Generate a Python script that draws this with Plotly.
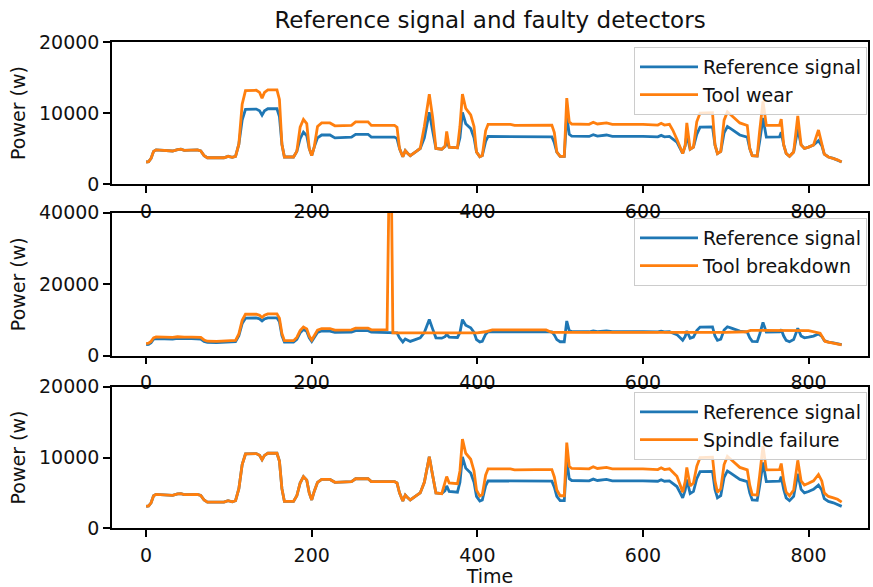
import plotly.graph_objects as go

# ---------------- data ----------------
time = [0, 3, 6, 9, 12, 20, 26, 32, 38, 42, 46, 55, 62, 66, 70, 74, 85, 94, 99, 104,
        108, 112, 116, 120, 133, 137, 140, 143, 147, 158, 161, 164, 167, 178, 182, 186, 190, 194, 197, 200,
        203, 207, 212, 222, 228, 248, 253, 268, 272, 300, 303, 306, 310, 313, 316, 319, 325, 331, 336, 342,
        346, 350, 357, 361, 363, 366, 376, 379, 382, 386, 392, 396, 399, 403, 406, 410, 413, 440, 445, 470,
        490, 493, 496, 500, 505, 508, 511, 514, 535, 540, 545, 556, 563, 600, 618, 622, 626, 632, 636, 641,
        645, 648, 651, 653, 657, 661, 665, 669, 684, 687, 690, 694, 698, 702, 706, 717, 726, 729, 732, 738,
        741, 745, 749, 765, 767, 770, 773, 777, 782, 787, 791, 795, 800, 806, 812, 816, 819, 824, 830, 835,
        840]

reference = [3100, 3150, 3600, 4600, 4800, 4750, 4700, 4650, 4850, 4900, 4750, 4750, 4800, 4650, 4000, 3700, 3650, 3700, 3900, 3750,
             3900, 5600, 9000, 10500, 10550, 10300, 9700, 10300, 10600, 10600, 9500, 5600, 3800, 3800, 4600, 6400, 7300, 6800, 5000, 4000,
             5200, 6500, 6900, 6900, 6500, 6600, 7000, 7000, 6600, 6600, 6400, 5000, 3850, 4700, 4300, 4000, 4500, 5000, 6500, 10100,
             7500, 5000, 4900, 5300, 6000, 5200, 5100, 6500, 10100, 8500, 7800, 6500, 4500, 3850, 4000, 6000, 6700, 6700, 6600, 6650,
             6650, 5800, 4500, 3900, 3900, 9700, 7000, 6750, 6700, 6950, 6750, 6900, 6700, 6700, 6650, 6850, 6650, 6700, 6300, 5900,
             5000, 4300, 5400, 6900, 4900, 5200, 7000, 8000, 8050, 5500, 4300, 4600, 7200, 8100, 7800, 6900, 6600, 5000, 4000, 3950,
             6000, 9300, 6600, 6650, 7300, 5500, 4300, 3900, 4500, 7700, 5500, 5000, 5200, 5500, 6100, 5400, 4200, 3800, 3600, 3400,
             3100]

tool_wear = [3100, 3150, 3600, 4600, 4800, 4750, 4700, 4650, 4850, 4900, 4750, 4750, 4800, 4650, 4000, 3700, 3650, 3700, 3900, 3750,
             3900, 5600, 11250, 13150, 13200, 12900, 12100, 12900, 13250, 13250, 11900, 5600, 3800, 3800, 4600, 8000, 9100, 8500, 5000, 4000,
             5200, 8100, 8600, 8600, 8200, 8250, 8750, 8750, 8250, 8250, 8000, 5000, 3850, 4700, 4300, 4000, 4500, 5000, 8100, 12650,
             9400, 5000, 4900, 5300, 7400, 5200, 5100, 8100, 12650, 10650, 9750, 8100, 4500, 3850, 4000, 7500, 8400, 8400, 8250, 8300,
             8300, 7250, 4500, 3900, 3900, 12100, 8750, 8450, 8400, 8700, 8450, 8600, 8400, 8400, 8300, 8550, 8300, 8400, 7600, 6300,
             5000, 4300, 5400, 8600, 4900, 5200, 8750, 10000, 10050, 5500, 4300, 4600, 9000, 10150, 9750, 8600, 8250, 5000, 4000, 3950,
             7500, 11650, 8250, 8300, 9150, 5500, 4300, 3900, 4500, 9600, 5500, 5000, 5200, 5500, 7600, 5400, 4200, 3800, 3600, 3400,
             3100]

spindle_failure = [3100, 3150, 3600, 4600, 4800, 4750, 4700, 4650, 4850, 4900, 4750, 4750, 4800, 4650, 4000, 3700, 3650, 3700, 3900, 3750,
                   3900, 5600, 9000, 10500, 10550, 10300, 9700, 10300, 10600, 10600, 9500, 5600, 3800, 3800, 4600, 6400, 7300, 6800, 5000, 4000,
                   5200, 6500, 6900, 6900, 6500, 6600, 7000, 7000, 6600, 6600, 6400, 5000, 3850, 4700, 4300, 4000, 4500, 5000, 6500, 10100,
                   7500, 5000, 4900, 6400, 7300, 6400, 6300, 8100, 12600, 10600, 9750, 8100, 5400, 4550, 4750, 7500, 8400, 8400, 8250, 8300,
                   8300, 7250, 5400, 4600, 4600, 12100, 8750, 8450, 8400, 8700, 8450, 8600, 8400, 8400, 8300, 8550, 8300, 8400, 7900, 7350,
                   6100, 5100, 6600, 8600, 6000, 6400, 8750, 10000, 10050, 6700, 5100, 5600, 9000, 10150, 9750, 8600, 8250, 6100, 4750, 4700,
                   7500, 11650, 8250, 8300, 9150, 6700, 5100, 4600, 5400, 9600, 6700, 6100, 6350, 6700, 7600, 6700, 5000, 4500, 4300, 4100,
                   3700]

breakdown_time = [0, 3, 6, 9, 12, 20, 26, 32, 38, 42, 46, 55, 62, 66, 70, 74, 85, 94, 99, 104,
                  108, 112, 116, 120, 133, 137, 140, 143, 147, 158, 161, 164, 167, 178, 182, 186, 190, 194, 197, 200,
                  203, 207, 212, 222, 228, 248, 253, 268, 272, 288, 291, 295, 298, 400, 410, 418, 483, 490, 640, 700,
                  725, 730, 800, 810, 814, 820, 830, 840]

tool_breakdown = [3400, 3500, 4000, 5000, 5250, 5200, 5150, 5100, 5300, 5350, 5200, 5200, 5250, 5100, 4400, 4050, 4000, 4050, 4250, 4100,
                  4300, 6100, 9900, 11600, 11600, 11300, 10700, 11300, 11700, 11700, 10500, 6200, 4200, 4200, 5100, 7000, 8000, 7500, 5500, 4400,
                  5700, 7150, 7600, 7600, 7150, 7250, 7700, 7700, 7250, 7300, 7300, 75000, 6400, 6400, 6700, 7200, 7200, 6500, 6450, 6500,
                  6700, 7100, 7000, 6600, 6300, 4000, 3500, 3000]

title_text = "Reference signal and faulty detectors"
fault_names = ["Tool wear", "Tool breakdown", "Spindle failure"]
y_max = [20000, 40000, 20000]
y_ticks = [[0, 10000, 20000], [0, 20000, 40000], [0, 10000, 20000]]
x_ticks = [0, 200, 400, 600, 800]

# ---------------- style ----------------
BLUE = "#1f77b4"
ORANGE = "#ff7f0e"
FONT = "DejaVu Sans"
LW = 2.8
TXT = "#111111"

fig = go.Figure()

faults = [(time, tool_wear), (breakdown_time, tool_breakdown), (time, spindle_failure)]
for i in range(3):
    sfx = "" if i == 0 else str(i + 1)
    lg = "legend" if i == 0 else "legend" + str(i + 1)
    fig.add_trace(go.Scatter(x=time, y=reference, mode="lines", name="Reference signal",
                             line=dict(color=BLUE, width=LW), xaxis="x" + sfx, yaxis="y" + sfx,
                             legend=lg))
    fx, fy = faults[i]
    fig.add_trace(go.Scatter(x=fx, y=fy, mode="lines", name=fault_names[i],
                             line=dict(color=ORANGE, width=LW), xaxis="x" + sfx, yaxis="y" + sfx,
                             legend=lg))

W, H = 873, 587
mt, mb, ml, mr = 42, 58, 112, 5
ph = H - mt - mb
pan = [(41.7, 184.0), (212.7, 355.7), (386.7, 528.3)]
bottom_px = H - mb

axis_common = dict(showline=True, mirror=True, linecolor="black", linewidth=1.5,
                   ticks="outside", ticklen=7, tickwidth=1.5, tickcolor="black",
                   showgrid=False, zeroline=False, automargin=False,
                   tickfont=dict(family=FONT, size=19, color=TXT))

layout = dict(width=W, height=H, margin=dict(l=ml, r=mr, t=mt, b=mb, autoexpand=False),
              plot_bgcolor="white", paper_bgcolor="white",
              font=dict(family=FONT, size=19, color=TXT),
              title=dict(text=title_text, x=(ml + (W - mr)) / 2 / W, xanchor="center",
                         y=1 - 20 / H, yanchor="middle", yref="container",
                         font=dict(family=FONT, size=23, color=TXT)))

legend_tops = [47, 218, 392]
for i in range(3):
    sfx = "" if i == 0 else str(i + 1)
    top, bot = pan[i]
    d0 = (bottom_px - bot) / ph
    d1 = (bottom_px - top) / ph
    xa = dict(axis_common, range=[-41.2, 871.8], tickvals=x_ticks,
              ticktext=[str(v) for v in x_ticks], domain=[0, 1], anchor="y" + sfx,
              ticklabelstandoff=2)
    if i == 2:
        xa["title"] = dict(text="Time", font=dict(family=FONT, size=19, color=TXT), standoff=14)
    ya = dict(axis_common, range=[0, y_max[i]], tickvals=y_ticks[i],
              ticktext=[str(v) for v in y_ticks[i]],
              domain=[max(0, d0), min(1, d1)], anchor="x" + sfx,
              title=dict(text="Power (w)", font=dict(family=FONT, size=19, color=TXT), standoff=8))
    layout["xaxis" + sfx] = xa
    layout["yaxis" + sfx] = ya
    lg = "legend" if i == 0 else "legend" + str(i + 1)
    layout[lg] = dict(x=(867 - ml) / (W - ml - mr), xanchor="right",
                      y=(bottom_px - legend_tops[i]) / ph, yanchor="top",
                      bgcolor="rgba(255,255,255,0.8)", bordercolor="#cccccc", borderwidth=1,
                      font=dict(family=FONT, size=19, color=TXT),
                      itemwidth=58, tracegroupgap=0)

fig.update_layout(**layout)
fig.write_html("out.html")
